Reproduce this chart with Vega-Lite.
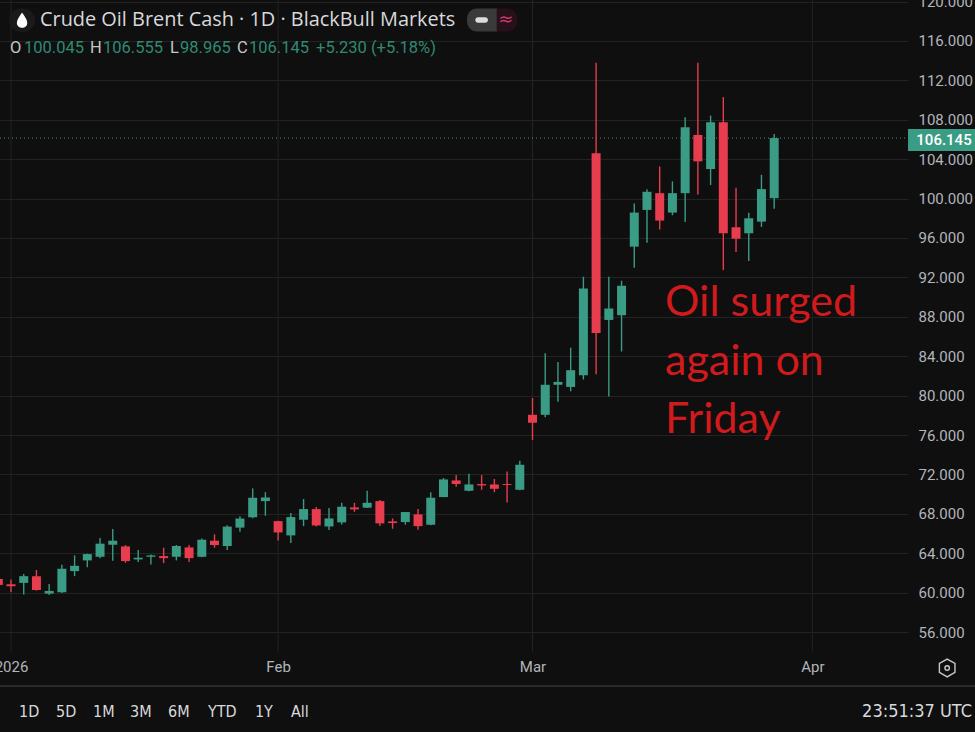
{
"$schema":"https://vega.github.io/schema/vega-lite/v6.json",
"width":908,"height":732,
"autosize":{"type":"none"},
"padding":{"left":0,"top":0,"right":67,"bottom":0},
"background":"#0f0f0f",
"config":{"view":{"stroke":null},"text":{"font":"Roboto"},"axis":{"labelFont":"Roboto"}},
"datasets":{
"candles":[
{"bar":-1,"date":"2026-01-01","open":61.39,"close":60.78,"high":61.5,"low":60.7,"dir":"down"},
{"bar":0,"date":"2026-01-02","open":60.85,"close":60.65,"high":61.33,"low":60.03,"dir":"down"},
{"bar":1,"date":"2026-01-05","open":60.99,"close":61.67,"high":61.9,"low":59.8,"dir":"up"},
{"bar":2,"date":"2026-01-06","open":61.67,"close":60.27,"high":62.3,"low":60.2,"dir":"down"},
{"bar":3,"date":"2026-01-07","open":59.9,"close":60.17,"high":60.88,"low":59.76,"dir":"up"},
{"bar":4,"date":"2026-01-08","open":60.03,"close":62.41,"high":62.82,"low":59.97,"dir":"up"},
{"bar":5,"date":"2026-01-09","open":62.18,"close":62.72,"high":63.78,"low":61.67,"dir":"up"},
{"bar":6,"date":"2026-01-12","open":63.27,"close":63.91,"high":63.95,"low":62.58,"dir":"up"},
{"bar":7,"date":"2026-01-13","open":63.64,"close":64.97,"high":65.54,"low":63.5,"dir":"up"},
{"bar":8,"date":"2026-01-14","open":64.86,"close":65.27,"high":66.46,"low":63.23,"dir":"up"},
{"bar":9,"date":"2026-01-15","open":64.69,"close":63.2,"high":64.83,"low":63.03,"dir":"down"},
{"bar":10,"date":"2026-01-16","open":63.37,"close":63.54,"high":64.32,"low":63.1,"dir":"up"},
{"bar":11,"date":"2026-01-19","open":63.64,"close":63.78,"high":63.88,"low":62.86,"dir":"up"},
{"bar":12,"date":"2026-01-20","open":63.71,"close":63.5,"high":64.56,"low":62.99,"dir":"down"},
{"bar":13,"date":"2026-01-21","open":63.64,"close":64.73,"high":64.83,"low":63.27,"dir":"up"},
{"bar":14,"date":"2026-01-22","open":64.59,"close":63.5,"high":64.83,"low":63.1,"dir":"down"},
{"bar":15,"date":"2026-01-23","open":63.64,"close":65.37,"high":65.5,"low":63.6,"dir":"up"},
{"bar":16,"date":"2026-01-26","open":65.27,"close":64.83,"high":65.92,"low":64.56,"dir":"down"},
{"bar":17,"date":"2026-01-27","open":64.73,"close":66.7,"high":66.84,"low":64.32,"dir":"up"},
{"bar":18,"date":"2026-01-28","open":66.6,"close":67.52,"high":67.76,"low":66.19,"dir":"up"},
{"bar":19,"date":"2026-01-29","open":67.65,"close":69.63,"high":70.58,"low":67.55,"dir":"up"},
{"bar":20,"date":"2026-01-30","open":69.29,"close":69.66,"high":70.2,"low":67.8,"dir":"up"},
{"bar":21,"date":"2026-02-02","open":67.26,"close":66.11,"high":67.3,"low":65.3,"dir":"down"},
{"bar":22,"date":"2026-02-03","open":65.81,"close":67.67,"high":68.07,"low":65.03,"dir":"up"},
{"bar":23,"date":"2026-02-04","open":67.4,"close":68.48,"high":69.5,"low":66.75,"dir":"up"},
{"bar":24,"date":"2026-02-05","open":68.48,"close":66.82,"high":68.68,"low":66.72,"dir":"down"},
{"bar":25,"date":"2026-02-06","open":66.72,"close":67.53,"high":68.58,"low":66.35,"dir":"up"},
{"bar":26,"date":"2026-02-09","open":67.13,"close":68.72,"high":69.12,"low":66.92,"dir":"up"},
{"bar":27,"date":"2026-02-10","open":68.65,"close":68.45,"high":69.12,"low":68.2,"dir":"down"},
{"bar":28,"date":"2026-02-11","open":68.62,"close":69.12,"high":70.34,"low":68.6,"dir":"up"},
{"bar":29,"date":"2026-02-12","open":69.29,"close":67.03,"high":69.39,"low":66.75,"dir":"down"},
{"bar":30,"date":"2026-02-13","open":67.23,"close":67.06,"high":67.53,"low":66.48,"dir":"down"},
{"bar":31,"date":"2026-02-16","open":67.16,"close":68.18,"high":68.18,"low":66.9,"dir":"up"},
{"bar":32,"date":"2026-02-17","open":67.94,"close":66.75,"high":68.48,"low":66.38,"dir":"down"},
{"bar":33,"date":"2026-02-18","open":66.89,"close":69.63,"high":70.2,"low":66.85,"dir":"up"},
{"bar":34,"date":"2026-02-19","open":69.7,"close":71.49,"high":71.63,"low":69.68,"dir":"up"},
{"bar":35,"date":"2026-02-20","open":71.39,"close":71.02,"high":71.93,"low":70.75,"dir":"down"},
{"bar":36,"date":"2026-02-23","open":70.34,"close":70.98,"high":72.07,"low":70.3,"dir":"up"},
{"bar":37,"date":"2026-02-24","open":71.02,"close":70.88,"high":71.93,"low":70.44,"dir":"down"},
{"bar":38,"date":"2026-02-25","open":70.98,"close":70.54,"high":71.53,"low":70.2,"dir":"down"},
{"bar":39,"date":"2026-02-26","open":71.02,"close":70.92,"high":72.3,"low":69.16,"dir":"down"},
{"bar":40,"date":"2026-02-27","open":70.44,"close":72.98,"high":73.39,"low":70.4,"dir":"up"},
{"bar":41,"date":"2026-03-02","open":78.05,"close":77.24,"high":79.76,"low":75.5,"dir":"down"},
{"bar":42,"date":"2026-03-03","open":78.05,"close":81.1,"high":84.31,"low":77.8,"dir":"up"},
{"bar":43,"date":"2026-03-04","open":81.1,"close":81.39,"high":83.4,"low":79.38,"dir":"up"},
{"bar":44,"date":"2026-03-05","open":80.88,"close":82.58,"high":84.86,"low":80.44,"dir":"up"},
{"bar":45,"date":"2026-03-06","open":82.07,"close":90.88,"high":92.07,"low":81.63,"dir":"up"},
{"bar":46,"date":"2026-03-09","open":104.59,"close":86.35,"high":113.79,"low":82.17,"dir":"down"},
{"bar":47,"date":"2026-03-10","open":87.68,"close":88.84,"high":92.07,"low":79.9,"dir":"up"},
{"bar":48,"date":"2026-03-11","open":88.16,"close":91.15,"high":91.66,"low":84.48,"dir":"up"},
{"bar":49,"date":"2026-03-12","open":95.12,"close":98.58,"high":99.5,"low":92.98,"dir":"up"},
{"bar":50,"date":"2026-03-13","open":98.85,"close":100.69,"high":100.96,"low":95.52,"dir":"up"},
{"bar":51,"date":"2026-03-16","open":100.55,"close":97.77,"high":103.27,"low":96.85,"dir":"down"},
{"bar":52,"date":"2026-03-17","open":98.58,"close":100.55,"high":101.74,"low":98.31,"dir":"up"},
{"bar":53,"date":"2026-03-18","open":100.55,"close":107.24,"high":108.26,"low":97.63,"dir":"up"},
{"bar":54,"date":"2026-03-19","open":106.46,"close":103.78,"high":113.79,"low":100.41,"dir":"down"},
{"bar":55,"date":"2026-03-20","open":103.0,"close":107.75,"high":108.43,"low":101.37,"dir":"up"},
{"bar":56,"date":"2026-03-23","open":107.75,"close":96.48,"high":110.3,"low":92.74,"dir":"down"},
{"bar":57,"date":"2026-03-24","open":97.09,"close":95.93,"high":101.09,"low":94.57,"dir":"down"},
{"bar":58,"date":"2026-03-25","open":96.48,"close":98.0,"high":98.55,"low":93.66,"dir":"up"},
{"bar":59,"date":"2026-03-26","open":97.66,"close":100.96,"high":102.42,"low":97.12,"dir":"up"},
{"bar":60,"date":"2026-03-27","open":100.045,"close":106.145,"high":106.555,"low":98.965,"dir":"up"}
]},
"encoding":{
"x":{"field":"bar","type":"quantitative","title":null,"scale":{"domain":[-0.865,70.52],"nice":false,"zero":false,"padding":0},
"axis":{"values":[0,21,41,63],"labelExpr":"datum.value==0?'2026':datum.value==21?'Feb':datum.value==41?'Mar':'Apr'","labelColor":"#b2b5bc","labelFontSize":15,"labelPadding":-73,"labelBound":false,"labelFlush":false,"labelOverlap":false,"ticks":false,"domain":false,"grid":false}},
"y":{"field":"price","type":"quantitative","title":null,"scale":{"domain":[45.85,120.16],"nice":false,"zero":false},
"axis":{"orient":"right","values":[56,60,64,68,72,76,80,84,88,92,96,100,104,108,112,116,120],"format":".3f","labelColor":"#b2b5bc","labelFontSize":15,"labelPadding":10,"labelBound":false,"labelFlush":false,"labelOverlap":false,"ticks":false,"domain":false,"grid":true,"gridColor":"#232323","gridWidth":1}}
},
"layer":[
{"data":{"values":[{"bar":0,"price":54,"price2":120.16},{"bar":21,"price":54,"price2":120.16},{"bar":41,"price":54,"price2":120.16},{"bar":63,"price":54,"price2":120.16}]},
 "mark":{"type":"rule","color":"#232323","strokeWidth":1},"encoding":{"y2":{"field":"price2"}}},
{"data":{"values":[{"bar":-0.865,"bar2":75.8,"price":50.52}]},
 "mark":{"type":"rule","color":"#2a2a2a","strokeWidth":2},"encoding":{"x2":{"field":"bar2"}}},
{"data":{"values":[{"bar":-0.865,"bar2":70.52,"price":106.145}]},
 "mark":{"type":"rule","color":"#3f9c85","strokeWidth":1,"strokeDash":[1,3]},"encoding":{"x2":{"field":"bar2"}}},
{"data":{"name":"candles"},"mark":{"type":"rule","strokeWidth":1.4},
 "encoding":{"y":{"field":"low","type":"quantitative","title":null,"scale":{"domain":[45.85,120.16],"nice":false,"zero":false},
 "axis":{"orient":"right","values":[56,60,64,68,72,76,80,84,88,92,96,100,104,108,112,116,120],"format":".3f","labelColor":"#b2b5bc","labelFontSize":15,"labelPadding":10,"labelBound":false,"labelFlush":false,"labelOverlap":false,"ticks":false,"domain":false,"grid":true,"gridColor":"#232323","gridWidth":1}},"y2":{"field":"high"},
 "color":{"field":"dir","type":"nominal","scale":{"domain":["up","down"],"range":["#3a9c85","#e83c4f"]},"legend":null}}},
{"data":{"name":"candles"},"mark":{"type":"bar","size":9,"orient":"vertical"},
 "encoding":{"y":{"field":"open","type":"quantitative","title":null,"scale":{"domain":[45.85,120.16],"nice":false,"zero":false},
 "axis":{"orient":"right","values":[56,60,64,68,72,76,80,84,88,92,96,100,104,108,112,116,120],"format":".3f","labelColor":"#b2b5bc","labelFontSize":15,"labelPadding":10,"labelBound":false,"labelFlush":false,"labelOverlap":false,"ticks":false,"domain":false,"grid":true,"gridColor":"#232323","gridWidth":1}},"y2":{"field":"close"},
 "color":{"field":"dir","type":"nominal","scale":{"domain":["up","down"],"range":["#3a9c85","#e83c4f"]},"legend":null}}},
{"data":{"values":[{"bar":70.52,"bar2":75.8,"price":104.83,"price2":107.07}]},
 "mark":{"type":"rect","color":"#3a9c85"},"encoding":{"x2":{"field":"bar2"},"y2":{"field":"price2"}}},
{"data":{"values":[{"bar":73.35,"price":105.95,"label":"106.145"}]},
 "mark":{"type":"text","color":"#ffffff","fontSize":15,"fontWeight":500,"baseline":"middle"},"encoding":{"text":{"field":"label"}}},
{"data":{"values":[{"bar":-0.15,"bar2":1.89,"price":116.9,"price2":119.3}]},
 "mark":{"type":"rect","color":"#1a1a1a","cornerRadius":12},"encoding":{"x2":{"field":"bar2"},"y2":{"field":"price2"}}},
{"data":{"values":[{"bar":0.87,"price":118.13}]},
 "mark":{"type":"point","filled":true,"color":"#ffffff","opacity":1,"size":220,"shape":"M0,-1 C0.45,-0.35 0.7,0.05 0.7,0.4 A0.7,0.65 0 1 1 -0.7,0.4 C-0.7,0.05 -0.45,-0.35 0,-1 Z"}},
{"data":{"values":[{"bar":2.28,"price":118.13,"label":"Crude Oil Brent Cash · 1D · BlackBull Markets"}]},
 "mark":{"type":"text","align":"left","baseline":"middle","color":"#d8d9dc","fontSize":19.9,"font":"Open Sans"},"encoding":{"text":{"field":"label"}}},
{"data":{"values":[{"bar":35.85,"bar2":38.2,"price":116.95,"price2":119.3}]},
 "mark":{"type":"rect","color":"#3a3a3a","cornerRadiusTopLeft":10,"cornerRadiusBottomLeft":10},"encoding":{"x2":{"field":"bar2"},"y2":{"field":"price2"}}},
{"data":{"values":[{"bar":38.2,"bar2":39.8,"price":116.95,"price2":119.3}]},
 "mark":{"type":"rect","color":"#27101a","cornerRadiusTopRight":10,"cornerRadiusBottomRight":10},"encoding":{"x2":{"field":"bar2"},"y2":{"field":"price2"}}},
{"data":{"values":[{"bar":36.5,"bar2":37.5,"price":117.85,"price2":118.4}]},
 "mark":{"type":"rect","color":"#dcdcdc","cornerRadius":3},"encoding":{"x2":{"field":"bar2"},"y2":{"field":"price2"}}},
{"data":{"values":[{"bar":38.9,"price":118.1,"label":"≈"}]},
 "mark":{"type":"text","color":"#c43a6a","fontSize":18,"baseline":"middle","font":"DejaVu Sans"},"encoding":{"text":{"field":"label"}}},
{"data":{"values":[{"bar":-0.08,"price":115.29,"label":"O"},{"bar":6.21,"price":115.29,"label":"H"},{"bar":12.5,"price":115.29,"label":"L"},{"bar":17.77,"price":115.29,"label":"C"}]},
 "mark":{"type":"text","align":"left","baseline":"middle","color":"#c4c6cc","fontSize":16.5},"encoding":{"text":{"field":"label"}}},
{"data":{"values":[{"bar":1.02,"price":115.29,"label":"100.045"},{"bar":7.23,"price":115.29,"label":"106.555"},{"bar":13.29,"price":115.29,"label":"98.965"},{"bar":18.71,"price":115.29,"label":"106.145"},{"bar":23.98,"price":115.29,"label":"+5.230 (+5.18%)"}]},
 "mark":{"type":"text","align":"left","baseline":"middle","color":"#2f8a74","fontSize":16.5},"encoding":{"text":{"field":"label"}}},
{"data":{"values":[{"bar":51.42,"price":89.4,"label":"Oil surged"},{"bar":51.42,"price":83.4,"label":"again on"},{"bar":51.42,"price":77.5,"label":"Friday"}]},
 "mark":{"type":"text","align":"left","baseline":"middle","color":"#d01a1c","fontSize":43,"font":"Lato"},"encoding":{"text":{"field":"label"}}},
{"data":{"values":[{"bar":0.63,"price":47.88,"label":"1D"},{"bar":3.54,"price":47.88,"label":"5D"},{"bar":6.45,"price":47.88,"label":"1M"},{"bar":9.36,"price":47.88,"label":"3M"},{"bar":12.35,"price":47.88,"label":"6M"},{"bar":15.49,"price":47.88,"label":"YTD"},{"bar":19.18,"price":47.88,"label":"1Y"},{"bar":22.01,"price":47.88,"label":"All"}]},
 "mark":{"type":"text","align":"left","baseline":"middle","color":"#d8d9dc","fontSize":16,"font":"DejaVu Sans Condensed"},"encoding":{"text":{"field":"label"}}},
{"data":{"values":[{"bar":75.55,"price":47.88,"label":"23:51:37 UTC"}]},
 "mark":{"type":"text","align":"right","baseline":"middle","color":"#d8d9dc","fontSize":18,"font":"DejaVu Sans Condensed"},"encoding":{"text":{"field":"label"}}},
{"data":{"values":[{"bar":73.6,"price":52.35}]},
 "mark":{"type":"point","filled":false,"color":"#c8c9cc","strokeWidth":1.4,"opacity":1,"size":320,"shape":"M0,-1 L0.87,-0.5 L0.87,0.5 L0,1 L-0.87,0.5 L-0.87,-0.5 Z"}},
{"data":{"values":[{"bar":73.6,"price":52.35}]},
 "mark":{"type":"point","filled":false,"color":"#c8c9cc","strokeWidth":1.4,"opacity":1,"size":20,"shape":"circle"}}
]
}
